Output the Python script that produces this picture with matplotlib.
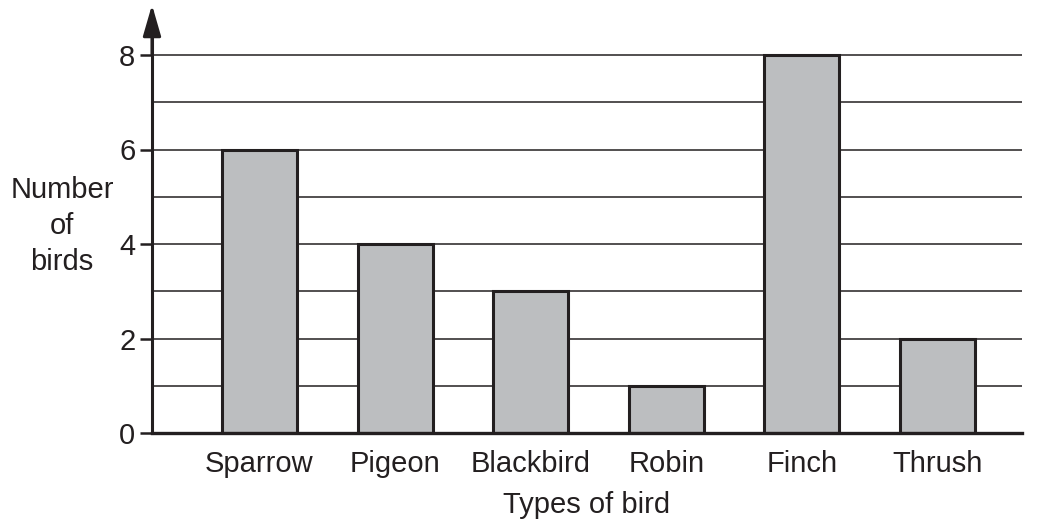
import matplotlib
matplotlib.use("Agg")
import matplotlib.pyplot as plt

categories = ["Sparrow", "Pigeon", "Blackbird", "Robin", "Finch", "Thrush"]
counts = [6, 4, 3, 1, 8, 2]
yticks = [0, 2, 4, 6, 8]
gridlines = [1, 2, 3, 4, 5, 6, 7, 8]

plt.rcParams['font.family'] = ['Liberation Sans', 'DejaVu Sans']
ink = "#231f20"
fill = "#bcbec0"

W, H = 1037, 527
fig = plt.figure(figsize=(W/100, H/100), dpi=100)
left_px, right_px, bottom_px, top_px = 152, 1022, 433, 12
ax = fig.add_axes([left_px/W, (H-bottom_px)/H, (right_px-left_px)/W, (bottom_px-top_px)/H])

unit = (433 - 55) / 8.0
ax.set_ylim(0, (bottom_px - top_px) / unit)
spacing = (937.5 - 259.5) / 5
ax.set_xlim(-(259.5 - left_px) / spacing, (right_px - 259.5) / spacing)

for g in gridlines:
    ax.axhline(g, color=ink, lw=1.1, zorder=1)

x = list(range(len(categories)))
ax.bar(x, counts, width=75/spacing, color=fill, edgecolor=ink, linewidth=2.2, zorder=2)

for s in ["top", "right"]:
    ax.spines[s].set_visible(False)
ax.spines["left"].set_linewidth(2.2)
ax.spines["bottom"].set_linewidth(2.4)
ax.spines["left"].set_color(ink)
ax.spines["bottom"].set_color(ink)
ax.spines["bottom"].set_zorder(3)

fs = 21
ax.set_yticks(yticks)
ax.set_xticks(x)
ax.set_xticklabels(categories)
ax.tick_params(axis="y", length=9, width=1.8, color=ink, labelsize=fs, labelcolor=ink, pad=3)
ax.tick_params(axis="x", length=0, labelsize=fs, labelcolor=ink, pad=12)

# arrow at top of y axis
ax.annotate("", xy=(0, 1.017), xycoords="axes fraction",
            xytext=(0, 0.9), textcoords="axes fraction",
            arrowprops=dict(arrowstyle="-|>,head_length=1.9,head_width=0.55", color=ink, lw=2.2,
                            shrinkA=0, shrinkB=0),
            annotation_clip=False)

fig.text(62/W, 1 - 226/H, "Number\nof\nbirds", ha="center", va="center", fontsize=fs,
         color=ink, linespacing=1.35)
fig.text(587/W, 1 - 505/H, "Types of bird", ha="center", va="center", fontsize=fs, color=ink)

fig.savefig("out.png", dpi=100)
